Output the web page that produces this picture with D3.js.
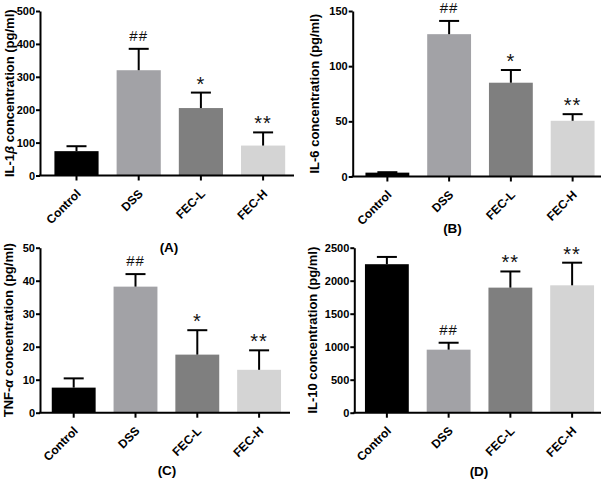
<!DOCTYPE html>
<html>
<head>
<meta charset="utf-8">
<script src="https://cdn.jsdelivr.net/npm/d3@7/dist/d3.min.js"></script>
<style>
  html, body { margin: 0; padding: 0; background: #fff; }
  svg { display: block; }
  text { font-family: "Liberation Sans", Arial, sans-serif; }
</style>
</head>
<body>
<svg id="chart" width="602" height="485"></svg>
<script>
// ---- data ----
const categories = ["Control", "DSS", "FEC-L", "FEC-H"];
const barColors = ["#000000", "#a2a2a6", "#7f7f7f", "#d4d4d4"];

const il1bMean = [74, 320, 205, 91];
const il1bSD   = [15, 65, 47, 40];
const il1bSig  = ["", "##", "*", "**"];
const il1bTicks = [0, 100, 200, 300, 400, 500];

const il6Mean = [3.5, 129, 85, 50.5];
const il6SD   = [0.4, 12, 11.5, 6];
const il6Sig  = ["", "##", "*", "**"];
const il6Ticks = [0, 50, 100, 150];

const tnfMean = [7.6, 38.2, 17.6, 13];
const tnfSD   = [2.8, 3.8, 7.4, 5.9];
const tnfSig  = ["", "##", "*", "**"];
const tnfTicks = [0, 10, 20, 30, 40, 50];

const il10Mean = [2250, 955, 1895, 1930];
const il10SD   = [110, 105, 245, 343];
const il10Sig  = ["", "##", "**", "**"];
const il10Ticks = [0, 500, 1000, 1500, 2000, 2500];

const panels = [
  { mean: il1bMean, sd: il1bSD, sig: il1bSig, ticks: il1bTicks, ymax: 500,
    title: ["IL-1", "β", " concentration (pg/ml)"], label: "(A)",
    ax: 40, y0: 175.5, yTop: 11, bandL: 45.4, bandR: 294.2, axR: 294,
    titleX: 9.5, labelX: 169, labelY: 252 },
  { mean: il6Mean, sd: il6SD, sig: il6Sig, ticks: il6Ticks, ymax: 150,
    title: ["IL-6 concentration (pg/ml)"], label: "(B)",
    ax: 352.7, y0: 176.5, yTop: 11, bandL: 356.5, bandR: 603.5, axR: 601,
    titleX: 314, labelX: 452.5, labelY: 233 },
  { mean: tnfMean, sd: tnfSD, sig: tnfSig, ticks: tnfTicks, ymax: 50,
    title: ["TNF-", "α", " concentration (pg/ml)"], label: "(C)",
    ax: 40, y0: 412.7, yTop: 247.7, bandL: 42.8, bandR: 290, axR: 290,
    titleX: 8, labelX: 167, labelY: 475 },
  { mean: il10Mean, sd: il10SD, sig: il10Sig, ticks: il10Ticks, ymax: 2500,
    title: ["IL-10 concentration (pg/ml)"], label: "(D)",
    ax: 354.3, y0: 412.7, yTop: 247.7, bandL: 356, bandR: 603, axR: 601,
    titleX: 312, labelX: 479, labelY: 476 }
];

const svg = d3.select("#chart");

panels.forEach(p => {
  const g = svg.append("g");
  const x = d3.scaleBand().domain(categories).range([p.bandL, p.bandR]).paddingInner(0.29).paddingOuter(0.145);
  const y = d3.scaleLinear().domain([0, p.ymax]).range([p.y0, p.yTop]);

  // bars
  g.selectAll("rect.bar").data(categories).enter().append("rect")
    .attr("x", d => x(d))
    .attr("width", x.bandwidth())
    .attr("y", (d, i) => y(p.mean[i]))
    .attr("height", (d, i) => p.y0 - y(p.mean[i]))
    .attr("fill", (d, i) => barColors[i]);

  // error bars (upper)
  const cap = 10;
  categories.forEach((c, i) => {
    const cx = x(c) + x.bandwidth() / 2;
    const top = y(p.mean[i] + p.sd[i]);
    g.append("line").attr("x1", cx).attr("x2", cx)
      .attr("y1", y(p.mean[i])).attr("y2", top)
      .attr("stroke", "#000").attr("stroke-width", 2);
    g.append("line").attr("x1", cx - cap).attr("x2", cx + cap)
      .attr("y1", top).attr("y2", top)
      .attr("stroke", "#000").attr("stroke-width", 2);
    if (p.sig[i]) {
      const isHash = p.sig[i][0] === "#";
      g.append("text")
        .attr("x", cx).attr("y", top - (isHash ? 8 : 2))
        .attr("text-anchor", "middle")
        .attr("font-size", isHash ? 15 : 20)
        .attr("letter-spacing", 1)
        .attr("fill", "#111")
        .text(p.sig[i]);
    }
  });

  // y axis
  const yAxis = d3.axisLeft(y).tickValues(p.ticks).tickFormat(d3.format("d"))
    .tickSize(4).tickPadding(1).tickSizeOuter(0);
  const yg = g.append("g").attr("transform", `translate(${p.ax},0)`).call(yAxis);
  yg.select(".domain").attr("stroke-width", 2);
  yg.selectAll(".tick line").attr("stroke-width", 2);
  yg.selectAll(".tick text").attr("font-size", 11).attr("font-weight", "bold").attr("fill", "#000")
    .style("font-family", "'Liberation Sans', Arial, sans-serif");

  // x axis
  g.append("line").attr("x1", p.ax - 1).attr("x2", p.axR)
    .attr("y1", p.y0).attr("y2", p.y0).attr("stroke", "#000").attr("stroke-width", 2);
  const xAxis = d3.axisBottom(x).tickSize(5).tickSizeOuter(0);
  const xg = g.append("g").attr("transform", `translate(0,${p.y0})`).call(xAxis);
  xg.select(".domain").remove();
  xg.selectAll(".tick line").attr("stroke-width", 2);
  xg.selectAll(".tick text")
    .attr("font-size", 12).attr("font-weight", "bold").attr("fill", "#000")
    .style("font-family", "'Liberation Sans', Arial, sans-serif")
    .attr("text-anchor", "end")
    .attr("dy", null)
    .attr("y", 0)
    .attr("transform", "translate(5,19) rotate(-45)");

  // y title
  const t = g.append("text")
    .attr("transform", `translate(${p.titleX},${(p.y0 + p.yTop) / 2}) rotate(-90)`)
    .attr("text-anchor", "middle").attr("dy", "0.35em")
    .attr("font-size", 13).attr("font-weight", "bold").attr("fill", "#000");
  p.title.forEach((s, k) => {
    const ts = t.append("tspan").text(s);
    if (s === "β" || s === "α") ts.attr("font-style", "italic");
  });

  // panel label
  g.append("text").attr("x", p.labelX).attr("y", p.labelY)
    .attr("text-anchor", "middle").attr("font-size", 13.5).attr("font-weight", "bold")
    .attr("fill", "#000").text(p.label);
});
</script>
</body>
</html>
